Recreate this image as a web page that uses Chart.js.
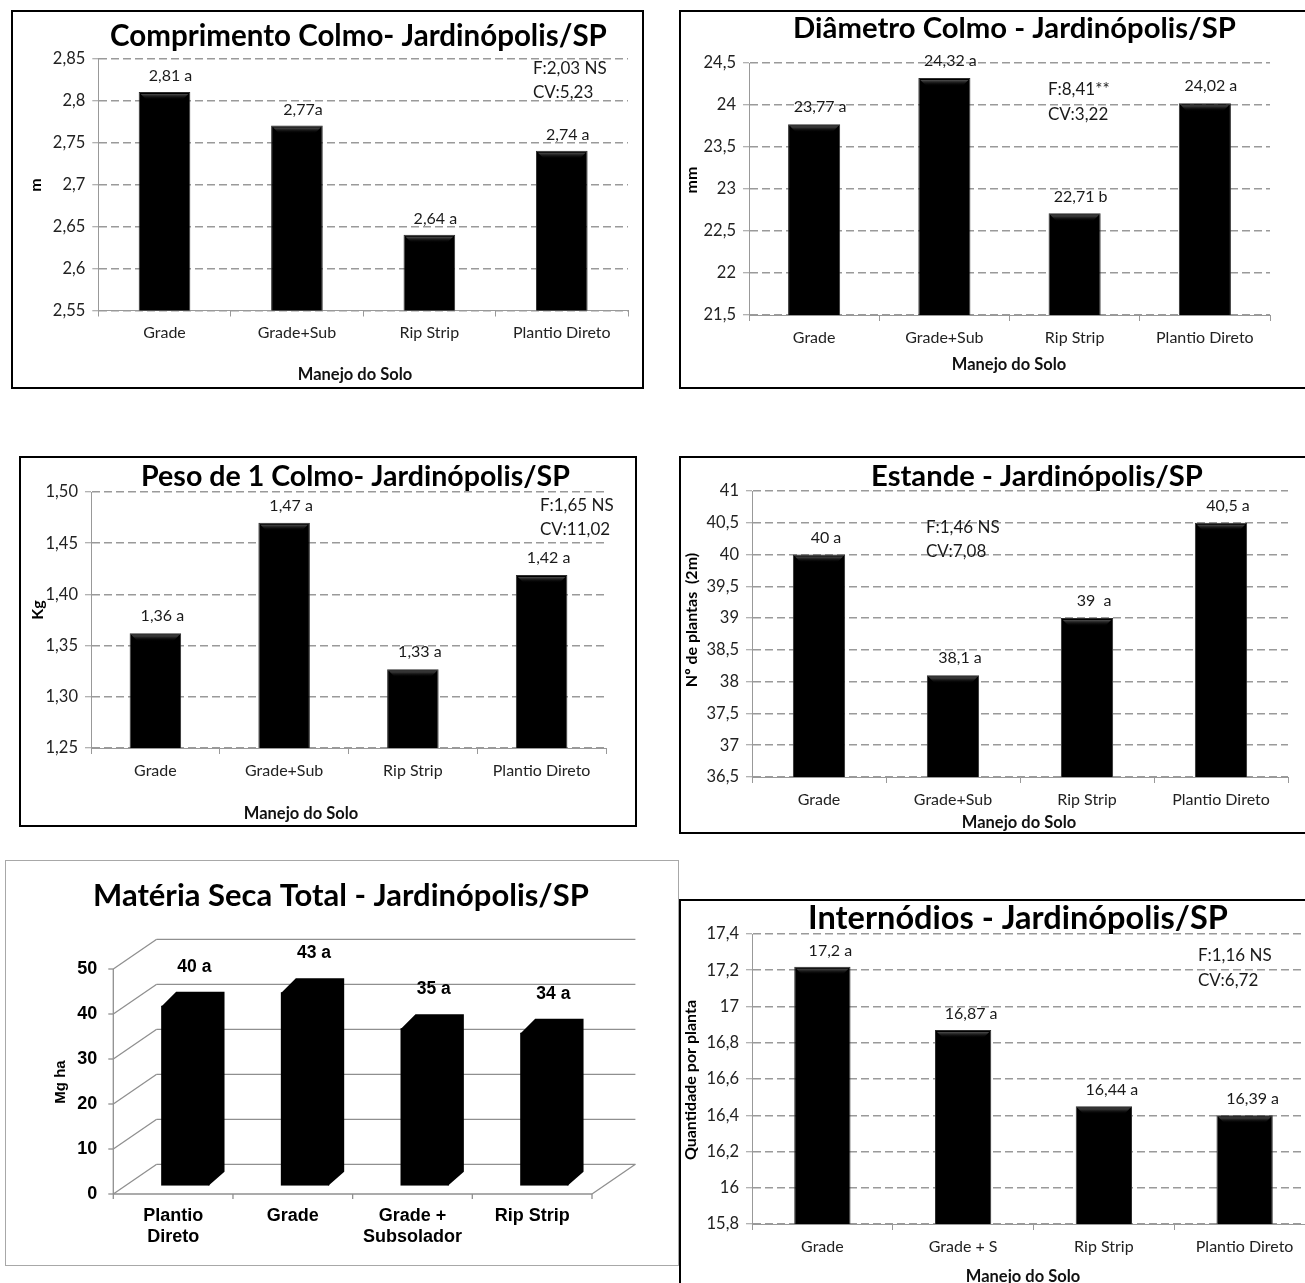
<!DOCTYPE html>
<html>
<head>
<meta charset="utf-8">
<script src="https://cdn.jsdelivr.net/npm/chart.js@4.4.0/dist/chart.umd.min.js"></script>
<style>
  body { margin: 0; background: #fff; width: 1305px; height: 1283px; overflow: hidden; position: relative; }
  .caixa { position: absolute; }
  .caixa canvas { position: absolute; left: 0; top: 0; }
  .borda { position: absolute; left: 0; top: 0; right: 0; bottom: 0; border: 2px solid #000; box-sizing: border-box; pointer-events: none; }
  .borda.fina { border: 1px solid #a8a8a8; }
</style>
</head>
<body>
<div class="caixa" id="c1"><canvas></canvas><div class="borda"></div></div>
<div class="caixa" id="c2"><canvas></canvas><div class="borda"></div></div>
<div class="caixa" id="c3"><canvas></canvas><div class="borda"></div></div>
<div class="caixa" id="c4"><canvas></canvas><div class="borda"></div></div>
<div class="caixa" id="c5"><canvas></canvas><div class="borda fina"></div></div>
<div class="caixa" id="c6"><canvas></canvas><div class="borda"></div></div>

<script>
// dados
const categorias = ["Grade", "Grade+Sub", "Rip Strip", "Plantio Direto"];

const comprimentoValores = [2.81, 2.77, 2.64, 2.74];
const comprimentoRotulos = ["2,81 a", "2,77a", "2,64 a", "2,74 a"];
const comprimentoEixo = [2.55, 2.6, 2.65, 2.7, 2.75, 2.8, 2.85];
const comprimentoEstat = ["F:2,03 NS", "CV:5,23"];

const diametroValores = [23.77, 24.32, 22.71, 24.02];
const diametroRotulos = ["23,77 a", "24,32 a", "22,71 b", "24,02 a"];
const diametroEixo = [21.5, 22, 22.5, 23, 23.5, 24, 24.5];
const diametroEstat = ["F:8,41**", "CV:3,22"];

const pesoValores = [1.362, 1.47, 1.327, 1.419];
const pesoRotulos = ["1,36 a", "1,47 a", "1,33 a", "1,42 a"];
const pesoEixo = [1.25, 1.30, 1.35, 1.40, 1.45, 1.50];
const pesoEstat = ["F:1,65 NS", "CV:11,02"];

const estandeValores = [40, 38.1, 39, 40.5];
const estandeRotulos = ["40 a", "38,1 a", "39  a", "40,5 a"];
const estandeEixo = [36.5, 37, 37.5, 38, 38.5, 39, 39.5, 40, 40.5, 41];
const estandeEstat = ["F:1,46 NS", "CV:7,08"];

const materiaCategorias = [["Plantio", "Direto"], "Grade", ["Grade +", "Subsolador"], "Rip Strip"];
const materiaValores = [40, 43, 35, 34];
const materiaRotulos = ["40 a", "43 a", "35 a", "34 a"];
const materiaEixo = [0, 10, 20, 30, 40, 50];

const internodiosCategorias = ["Grade", "Grade + S", "Rip Strip", "Plantio Direto"];
const internodiosValores = [17.22, 16.87, 16.45, 16.4];
const internodiosRotulos = ["17,2 a", "16,87 a", "16,44 a", "16,39 a"];
const internodiosEixo = [15.8, 16, 16.2, 16.4, 16.6, 16.8, 17, 17.2, 17.4];
const internodiosEstat = ["F:1,16 NS", "CV:6,72"];

const FONTE = "Lato, 'Open Sans', sans-serif";
const ARIAL = "'Liberation Sans', Arial, sans-serif";

const virgula = v => String(+v.toFixed(2)).replace(".", ",");
const virgula2 = v => v.toFixed(2).replace(".", ",");

function tamanhoAjustado(ctx, texto, fonte, largura) {
  ctx.font = "bold 100px " + fonte;
  return 100 * largura / ctx.measureText(texto).width;
}

function escreve(ctx, texto, x, y, font, align, cor) {
  ctx.font = font;
  ctx.textAlign = align || "center";
  ctx.textBaseline = "middle";
  ctx.fillStyle = cor || "#111";
  ctx.fillText(texto, x, y);
}

function escreveVertical(ctx, texto, x, y, font) {
  ctx.save();
  ctx.translate(x, y);
  ctx.rotate(-Math.PI / 2);
  escreve(ctx, texto, 0, 0, font, "center", "#000");
  ctx.restore();
}

function posicionaCaixa(id, cx) {
  const caixa = document.getElementById(id);
  caixa.style.left = cx.x + "px";
  caixa.style.top = cx.y + "px";
  caixa.style.width = cx.w + "px";
  caixa.style.height = cx.h + "px";
  const canvas = caixa.querySelector("canvas");
  canvas.width = cx.w;
  canvas.height = cx.h;
  return canvas;
}

function pluginTextos(cfg) {
  const ox = cfg.caixa.x, oy = cfg.caixa.y;
  return {
    id: "textos",
    afterDatasetsDraw(chart) {
      const ctx = chart.ctx;
      const meta = chart.getDatasetMeta(0);
      ctx.save();
      meta.data.forEach((bar) => {
        const { x, y, base, width } = bar.getProps(["x", "y", "base", "width"], true);
        const l = x - width / 2, r = x + width / 2;
        let g = ctx.createLinearGradient(0, y + 1, 0, y + 8);
        g.addColorStop(0, "#6a6a6a");
        g.addColorStop(1, "rgba(0,0,0,0)");
        ctx.fillStyle = g;
        ctx.beginPath();
        ctx.moveTo(l + 2, y + 2); ctx.lineTo(r - 2, y + 2);
        ctx.lineTo(r - 8, y + 8); ctx.lineTo(l + 8, y + 8);
        ctx.closePath(); ctx.fill();
        g = ctx.createLinearGradient(0, base - 9, 0, base - 1);
        g.addColorStop(0, "rgba(0,0,0,0)");
        g.addColorStop(1, "#3a3a3a");
        ctx.fillStyle = g;
        ctx.beginPath();
        ctx.moveTo(l + 8, base - 9); ctx.lineTo(r - 8, base - 9);
        ctx.lineTo(r - 2, base - 2); ctx.lineTo(l + 2, base - 2);
        ctx.closePath(); ctx.fill();
      });
      meta.data.forEach((bar, i) => {
        escreve(ctx, cfg.rotulos[i], bar.x + cfg.rotuloDx, bar.y - cfg.rotuloDy, "16px " + FONTE, "center", "#1a1a1a");
      });
      ctx.restore();
    },
    afterDraw(chart) {
      const ctx = chart.ctx;
      ctx.save();
      const t = cfg.titulo;
      const tam = tamanhoAjustado(ctx, t.texto, FONTE, t.w);
      escreve(ctx, t.texto, t.x - ox, t.y - oy, "bold " + tam + "px " + FONTE, "center", "#000");
      escreve(ctx, "Manejo do Solo", cfg.tituloX.x - ox, cfg.tituloX.y - oy, "bold 16.5px " + FONTE, "center", "#111");
      escreveVertical(ctx, cfg.tituloY.texto, cfg.tituloY.x - ox, cfg.tituloY.y - oy, "bold 16px " + FONTE);
      cfg.estat.forEach((linha, i) => {
        escreve(ctx, linha, cfg.estatPos.x - ox, cfg.estatPos.y[i] - oy, "17px " + FONTE, "left", "#1a1a1a");
      });
      ctx.restore();
    }
  };
}

function criarGrafico(id, cfg) {
  const cx = cfg.caixa;
  const canvas = posicionaCaixa(id, cx);
  const a = cfg.area;
  const L = a.l - cx.x, T = a.t - cx.y, R = a.r - cx.x, B = a.b - cx.y;
  return new Chart(canvas, {
    type: "bar",
    data: {
      labels: cfg.categorias,
      datasets: [{
        data: cfg.valores,
        backgroundColor: "#000",
        borderColor: "#2e2e2e",
        borderWidth: 1,
        barPercentage: cfg.barra,
        categoryPercentage: 1,
      }],
    },
    options: {
      responsive: false,
      animation: false,
      layout: { padding: { top: T, right: cx.w - R, left: 0, bottom: 0 } },
      plugins: { legend: { display: false }, tooltip: { enabled: false }, title: { display: false } },
      scales: {
        x: {
          grid: { drawOnChartArea: false, color: "#999", tickLength: 6 },
          border: { color: "#999" },
          ticks: { color: "#222", font: { family: FONTE, size: 16 }, padding: 7, maxRotation: 0, autoSkip: false },
          afterFit: (s) => { s.height = cx.h - B; },
        },
        y: {
          min: cfg.eixo[0],
          max: cfg.eixo[cfg.eixo.length - 1],
          grid: { color: "#9a9a9a", lineWidth: 1.5, tickLength: 6, tickColor: "#999", tickWidth: 1 },
          border: { color: "#999", dash: [8, 4] },
          ticks: { color: "#222", font: { family: FONTE, size: 16.5 }, padding: 7, callback: (v) => cfg.formato(v) },
          afterBuildTicks: (s) => { s.ticks = cfg.eixo.map((v) => ({ value: v })); },
          afterFit: (s) => { s.width = L; },
        },
      },
    },
    plugins: [pluginTextos(cfg)],
  });
}

criarGrafico("c1", {
  caixa: { x: 11, y: 10, w: 633, h: 379 },
  area: { l: 98.3, t: 58.3, r: 628, b: 310.5 },
  categorias: categorias, valores: comprimentoValores, rotulos: comprimentoRotulos,
  eixo: comprimentoEixo, formato: virgula, estat: comprimentoEstat, barra: 0.39,
  rotuloDx: 6, rotuloDy: 16,
  titulo: { texto: "Comprimento Colmo- Jardinópolis/SP", x: 358.5, y: 36, w: 497 },
  tituloX: { x: 355, y: 375 },
  tituloY: { texto: "m", x: 36, y: 185 },
  estatPos: { x: 533, y: [69, 93] },
});

criarGrafico("c2", {
  caixa: { x: 679, y: 10, w: 630, h: 379 },
  area: { l: 749, t: 63, r: 1270, b: 315 },
  categorias: categorias, valores: diametroValores, rotulos: diametroRotulos,
  eixo: diametroEixo, formato: virgula, estat: diametroEstat, barra: 0.4,
  rotuloDx: 6, rotuloDy: 17,
  titulo: { texto: "Diâmetro Colmo - Jardinópolis/SP", x: 1014.5, y: 29, w: 443 },
  tituloX: { x: 1009, y: 365 },
  tituloY: { texto: "mm", x: 692, y: 180 },
  estatPos: { x: 1048, y: [90, 115] },
});

criarGrafico("c3", {
  caixa: { x: 19, y: 456, w: 618, h: 371 },
  area: { l: 91, t: 492, r: 606, b: 748 },
  categorias: categorias, valores: pesoValores, rotulos: pesoRotulos,
  eixo: pesoEixo, formato: virgula2, estat: pesoEstat, barra: 0.4,
  rotuloDx: 7, rotuloDy: 17,
  titulo: { texto: "Peso de 1 Colmo- Jardinópolis/SP", x: 355.5, y: 477, w: 429 },
  tituloX: { x: 301, y: 814 },
  tituloY: { texto: "Kg", x: 38, y: 610 },
  estatPos: { x: 540, y: [506, 530] },
});

criarGrafico("c4", {
  caixa: { x: 679, y: 456, w: 630, h: 378 },
  area: { l: 752, t: 491, r: 1288, b: 777 },
  categorias: categorias, valores: estandeValores, rotulos: estandeRotulos,
  eixo: estandeEixo, formato: virgula, estat: estandeEstat, barra: 0.39,
  rotuloDx: 7, rotuloDy: 17,
  titulo: { texto: "Estande - Jardinópolis/SP", x: 1037, y: 477, w: 332 },
  tituloX: { x: 1019, y: 823 },
  tituloY: { texto: "Nº de plantas  (2m)", x: 692, y: 620 },
  estatPos: { x: 926, y: [528, 552] },
});

criarGrafico("c6", {
  caixa: { x: 679, y: 899, w: 640, h: 400 },
  area: { l: 752, t: 934, r: 1315, b: 1224 },
  categorias: internodiosCategorias, valores: internodiosValores, rotulos: internodiosRotulos,
  eixo: internodiosEixo, formato: virgula, estat: internodiosEstat, barra: 0.4,
  rotuloDx: 8, rotuloDy: 16,
  titulo: { texto: "Internódios - Jardinópolis/SP", x: 1018, y: 919, w: 420 },
  tituloX: { x: 1023, y: 1277 },
  tituloY: { texto: "Quantidade por planta", x: 691, y: 1080 },
  estatPos: { x: 1198, y: [956, 981] },
});

// grafico 3D da materia seca
(function () {
  const cx = { x: 5, y: 860, w: 674, h: 406 };
  const canvas = posicionaCaixa("c5", cx);
  const area = { l: 125.5, t: 960.7, r: 604.2, b: 1185.7 };
  const frente = { dx: -12.2, dy: 8.3 };
  const fundo = { dx: 31.2, dy: -21.4 };
  const prof = { dx: 15, dy: -14 };

  const paredes = {
    id: "paredes",
    beforeDatasetsDraw(chart) {
      const { ctx, chartArea: a, scales: { x: sx, y: sy } } = chart;
      ctx.save();
      ctx.strokeStyle = "#8f8f8f";
      ctx.lineWidth = 1.3;
      const linha = (x1, y1, x2, y2) => { ctx.beginPath(); ctx.moveTo(x1, y1); ctx.lineTo(x2, y2); ctx.stroke(); };
      materiaEixo.forEach((v) => {
        const yv = sy.getPixelForValue(v);
        linha(a.left + fundo.dx, yv + fundo.dy, a.right + fundo.dx, yv + fundo.dy);
        linha(a.left + frente.dx, yv + frente.dy, a.left + fundo.dx, yv + fundo.dy);
        linha(a.left + frente.dx - 5, yv + frente.dy, a.left + frente.dx, yv + frente.dy);
      });
      const y0 = sy.getPixelForValue(0), y50 = sy.getPixelForValue(50);
      linha(a.left + frente.dx, y50 + frente.dy, a.left + frente.dx, y0 + frente.dy);
      linha(a.left + frente.dx, y0 + frente.dy, a.right + frente.dx, y0 + frente.dy);
      linha(a.right + frente.dx, y0 + frente.dy, a.right + fundo.dx, y0 + fundo.dy);
      for (let i = 0; i <= materiaValores.length; i++) {
        const xi = a.left + i * a.width / materiaValores.length + frente.dx;
        linha(xi, y0 + frente.dy, xi, y0 + frente.dy + 5);
      }
      materiaEixo.forEach((v) => {
        escreve(ctx, String(v), a.left + frente.dx - 16, sy.getPixelForValue(v) + frente.dy, "bold 18px " + ARIAL, "right", "#000");
      });
      materiaCategorias.forEach((c, i) => {
        const linhas = Array.isArray(c) ? c : [c];
        linhas.forEach((t, k) => {
          escreve(ctx, t, sx.getPixelForValue(i) + frente.dx, y0 + frente.dy + 22 + k * 21, "bold 18px " + ARIAL, "center", "#000");
        });
      });
      ctx.restore();
    },
    afterDatasetsDraw(chart) {
      const ctx = chart.ctx;
      ctx.save();
      ctx.fillStyle = "#000";
      chart.getDatasetMeta(0).data.forEach((bar, i) => {
        const { x, y, base, width } = bar.getProps(["x", "y", "base", "width"], true);
        const l = x - width / 2, r = x + width / 2;
        ctx.beginPath();
        ctx.moveTo(l, y + 1);
        ctx.lineTo(l + prof.dx, y + prof.dy);
        ctx.lineTo(r + prof.dx, y + prof.dy);
        ctx.lineTo(r + prof.dx, base + prof.dy);
        ctx.lineTo(r - 1, base);
        ctx.lineTo(r - 1, y + 1);
        ctx.closePath();
        ctx.fill();
        escreve(ctx, materiaRotulos[i], x + 9, y - 39, "bold 17.5px " + ARIAL, "center", "#000");
      });
      ctx.restore();
    },
    afterDraw(chart) {
      const ctx = chart.ctx;
      ctx.save();
      const texto = "Matéria Seca Total - Jardinópolis/SP";
      const tam = tamanhoAjustado(ctx, texto, FONTE, 496);
      escreve(ctx, texto, 341 - cx.x, 896 - cx.y, "bold " + tam + "px " + FONTE, "center", "#000");
      escreveVertical(ctx, "Mg ha", 61 - cx.x, 1082 - cx.y, "bold 15px " + ARIAL);
      ctx.restore();
    },
  };

  new Chart(canvas, {
    type: "bar",
    data: {
      labels: materiaCategorias,
      datasets: [{ data: materiaValores, backgroundColor: "#000", borderWidth: 0, barPercentage: 0.404, categoryPercentage: 1 }],
    },
    options: {
      responsive: false,
      animation: false,
      layout: { padding: { left: area.l - cx.x, top: area.t - cx.y, right: cx.x + cx.w - area.r, bottom: cx.y + cx.h - area.b } },
      plugins: { legend: { display: false }, tooltip: { enabled: false } },
      scales: {
        x: { display: false },
        y: { display: false, min: 0, max: 50 },
      },
    },
    plugins: [paredes],
  });
})();
</script>
</body>
</html>
